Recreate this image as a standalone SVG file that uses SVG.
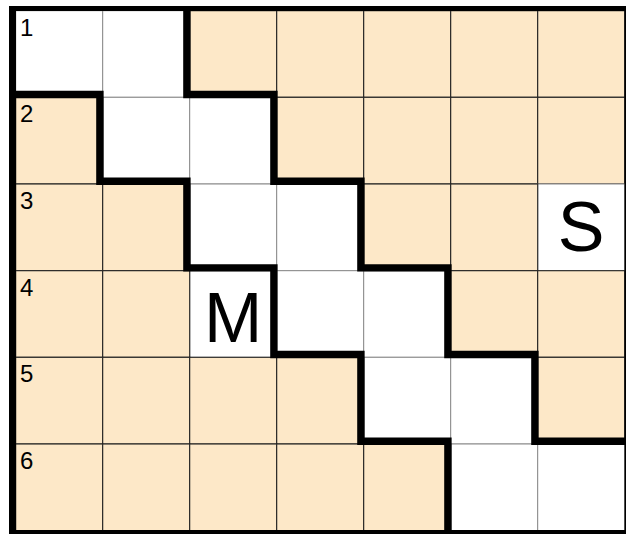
<svg xmlns="http://www.w3.org/2000/svg" width="626" height="534" viewBox="0 0 626 534">
<style>
.w{fill:#ffffff;stroke:#8a8a8a;stroke-width:1}
.b{fill:#fde8c8;stroke:#222222;stroke-width:1.1}
.thick{fill:none;stroke:#000;stroke-width:7.4;stroke-linejoin:miter;stroke-linecap:butt}
.frame{fill:#000}
.num{font-family:"Liberation Sans",Arial,sans-serif;font-size:24px;fill:#000}
.big{font-family:"Liberation Sans",Arial,sans-serif;font-size:70px;fill:#000;text-anchor:middle}
</style>
<rect x="0" y="0" width="626" height="534" fill="#fff"/>
<g id="cells">
<g id="r1"><rect class="w" x="15.7" y="10.7" width="87" height="86.6"/><rect class="w" x="102.7" y="10.7" width="87" height="86.6"/><rect class="b" x="189.7" y="10.7" width="87" height="86.6"/><rect class="b" x="276.7" y="10.7" width="87" height="86.6"/><rect class="b" x="363.7" y="10.7" width="87" height="86.6"/><rect class="b" x="450.7" y="10.7" width="87" height="86.6"/><rect class="b" x="537.7" y="10.7" width="87" height="86.6"/></g>
<g id="r2"><rect class="w" x="102.7" y="97.3" width="87" height="86.7"/><rect class="w" x="189.7" y="97.3" width="87" height="86.7"/><rect class="b" x="15.7" y="97.3" width="87" height="86.7"/><rect class="b" x="276.7" y="97.3" width="87" height="86.7"/><rect class="b" x="363.7" y="97.3" width="87" height="86.7"/><rect class="b" x="450.7" y="97.3" width="87" height="86.7"/><rect class="b" x="537.7" y="97.3" width="87" height="86.7"/></g>
<g id="r3"><rect class="w" x="189.7" y="184" width="87" height="86.7"/><rect class="w" x="276.7" y="184" width="87" height="86.7"/><rect class="w" x="537.7" y="184" width="87" height="86.7"/><rect class="b" x="15.7" y="184" width="87" height="86.7"/><rect class="b" x="102.7" y="184" width="87" height="86.7"/><rect class="b" x="363.7" y="184" width="87" height="86.7"/><rect class="b" x="450.7" y="184" width="87" height="86.7"/></g>
<g id="r4"><rect class="w" x="189.7" y="270.7" width="87" height="86.6"/><rect class="w" x="276.7" y="270.7" width="87" height="86.6"/><rect class="w" x="363.7" y="270.7" width="87" height="86.6"/><rect class="b" x="15.7" y="270.7" width="87" height="86.6"/><rect class="b" x="102.7" y="270.7" width="87" height="86.6"/><rect class="b" x="450.7" y="270.7" width="87" height="86.6"/><rect class="b" x="537.7" y="270.7" width="87" height="86.6"/></g>
<g id="r5"><rect class="w" x="363.7" y="357.3" width="87" height="86.7"/><rect class="w" x="450.7" y="357.3" width="87" height="86.7"/><rect class="b" x="15.7" y="357.3" width="87" height="86.7"/><rect class="b" x="102.7" y="357.3" width="87" height="86.7"/><rect class="b" x="189.7" y="357.3" width="87" height="86.7"/><rect class="b" x="276.7" y="357.3" width="87" height="86.7"/><rect class="b" x="537.7" y="357.3" width="87" height="86.7"/></g>
<g id="r6"><rect class="w" x="450.7" y="444" width="87" height="86.7"/><rect class="w" x="537.7" y="444" width="87" height="86.7"/><rect class="b" x="15.7" y="444" width="87" height="86.7"/><rect class="b" x="102.7" y="444" width="87" height="86.7"/><rect class="b" x="189.7" y="444" width="87" height="86.7"/><rect class="b" x="276.7" y="444" width="87" height="86.7"/><rect class="b" x="363.7" y="444" width="87" height="86.7"/></g>
</g>
<g id="labels">
<text class="num" x="20" y="35.5">1</text>
<text class="num" x="20" y="122">2</text>
<text class="num" x="20" y="208.8">3</text>
<text class="num" x="20" y="295.5">4</text>
<text class="num" x="20" y="382">5</text>
<text class="num" x="20" y="468.8">6</text>
<text class="big" x="233.2" y="341.5">M</text>
<text class="big" x="581.2" y="251">S</text>
</g>
<g id="borders">
<path class="thick" d="M186.9,8 V94.5 H273.9 V181.2 H360.9 V267.9 H447.9 V354.5 H534.9 V441.2 H626"/>
<path class="thick" d="M12,94.5 H99.9 V181.2 H186.9 V267.9 H273.9 V354.5 H360.9 V441.2 H447.9 V534"/>
<rect class="frame" x="9" y="6" width="7" height="528"/>
<rect class="frame" x="9" y="6" width="617" height="5"/>
<rect class="frame" x="624.5" y="6" width="1.5" height="528"/>
<rect class="frame" x="9" y="530" width="617" height="4"/>
</g>
</svg>
